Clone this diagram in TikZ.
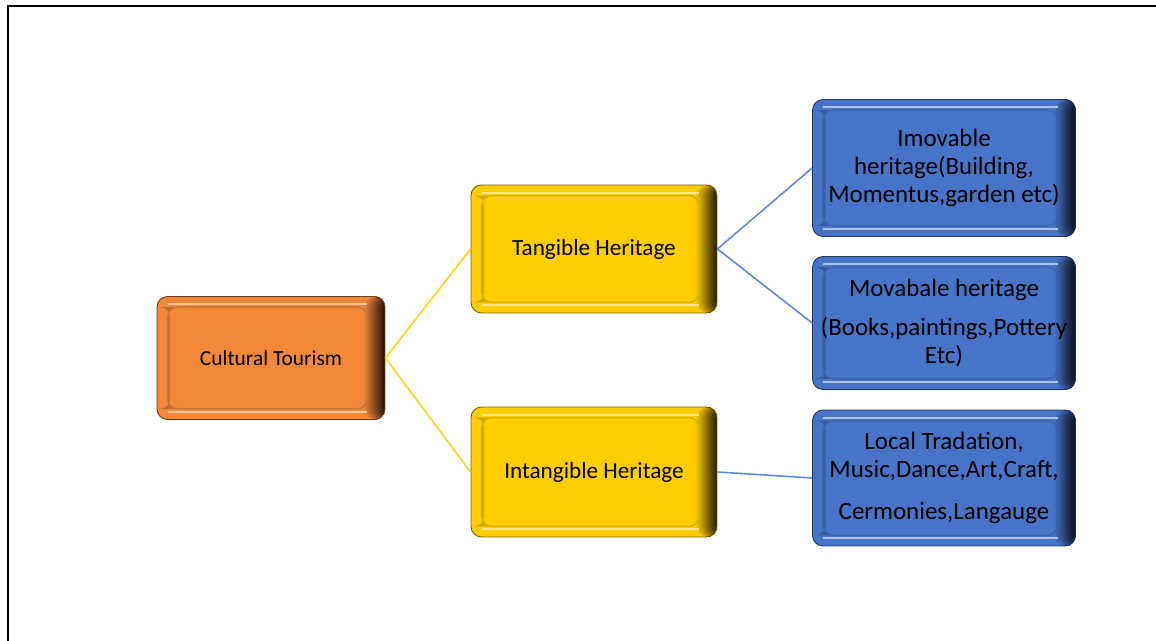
\documentclass[tikz,border=0pt]{standalone}
\usepackage{fontspec}
\setmainfont{Carlito}
\definecolor{tourorange}{RGB}{242,136,56}
\definecolor{heritgold}{RGB}{255,206,0}
\definecolor{itemblue}{RGB}{72,116,200}
\definecolor{linegold}{RGB}{255,210,20}
\definecolor{lineblue}{RGB}{90,138,220}
\tikzset{
  bevel/.style={draw=#1!45!black, line width=0.5pt, fill=#1, rounded corners=6pt,
    align=center, inner sep=2pt, text=black,
    path picture={
      % dark extruded right side
      \foreach \k in {0,...,11}{
        \pgfmathsetmacro\w{12-\k}
        \pgfmathtruncatemacro\mix{95-7*\k}
        \fill[#1!\mix!black] ([xshift=-\w pt]path picture bounding box.north east)
          rectangle (path picture bounding box.south east);
      }
      \fill[#1!80!black] ([shift={(6pt,-6pt)}]path picture bounding box.north west)
        rectangle ([shift={(7.5pt,6pt)}]path picture bounding box.south west);
      \draw[#1!85!black, line width=0.8pt] ([shift={(6pt,-6pt)}]path picture bounding box.north west)
        rectangle ([shift={(-10pt,6pt)}]path picture bounding box.south east);
      \draw[#1!45!white, line width=1.2pt] ([shift={(6pt,-4.5pt)}]path picture bounding box.north west)
        -- ([shift={(-10pt,-4.5pt)}]path picture bounding box.north east);
      \draw[#1!45!white, line width=1.2pt] ([shift={(6pt,4.5pt)}]path picture bounding box.south west)
        -- ([shift={(-10pt,4.5pt)}]path picture bounding box.south east);
    }},
  link/.style={line width=0.9pt},
}
\begin{document}
\begin{tikzpicture}[x=0.02cm,y=-0.02cm]
\useasboundingbox (0,0) rectangle (1156,641);
% frame
\draw[line width=1.3pt] (8,641) -- (8,6) -- (1156,6);

% root
\node[bevel=tourorange, minimum width=4.56cm, minimum height=2.46cm,
  font=\fontsize{12.2}{14}\selectfont] (tourism) at (271,358) {Cultural Tourism};

% middle level
\node[bevel=heritgold, minimum width=4.92cm, minimum height=2.56cm,
  font=\fontsize{13.2}{15}\selectfont] (tangible) at (594,249) {Tangible Heritage};
\node[bevel=heritgold, minimum width=4.92cm, minimum height=2.6cm,
  font=\fontsize{13.2}{15}\selectfont] (intangible) at (594,472) {Intangible Heritage};

% leaves
\node[bevel=itemblue, minimum width=5.26cm, minimum height=2.74cm,
  font=\fontsize{14.2}{16}\selectfont] (immovable) at (944,168)
  {Imovable\\heritage(Building,\\Momentus,garden etc)};
\node[bevel=itemblue, minimum width=5.26cm, minimum height=2.66cm,
  font=\fontsize{14.2}{16}\selectfont] (movable) at (944,323)
  {Movabale heritage\\[6pt](Books,paintings,Pottery\\Etc)};
\node[bevel=itemblue, minimum width=5.26cm, minimum height=2.72cm,
  font=\fontsize{14.2}{16}\selectfont] (intlist) at (944,478)
  {Local Tradation,\\Music,Dance,Art,Craft,\\[8pt]Cermonies,Langauge};

% connectors
\draw[link, linegold] (tourism.east) -- (tangible.west);
\draw[link, linegold] (tourism.east) -- (intangible.west);
\draw[link, lineblue] (tangible.east) -- (immovable.west);
\draw[link, lineblue] (tangible.east) -- (movable.west);
\draw[link, lineblue] (intangible.east) -- (intlist.west);
\end{tikzpicture}
\end{document}
